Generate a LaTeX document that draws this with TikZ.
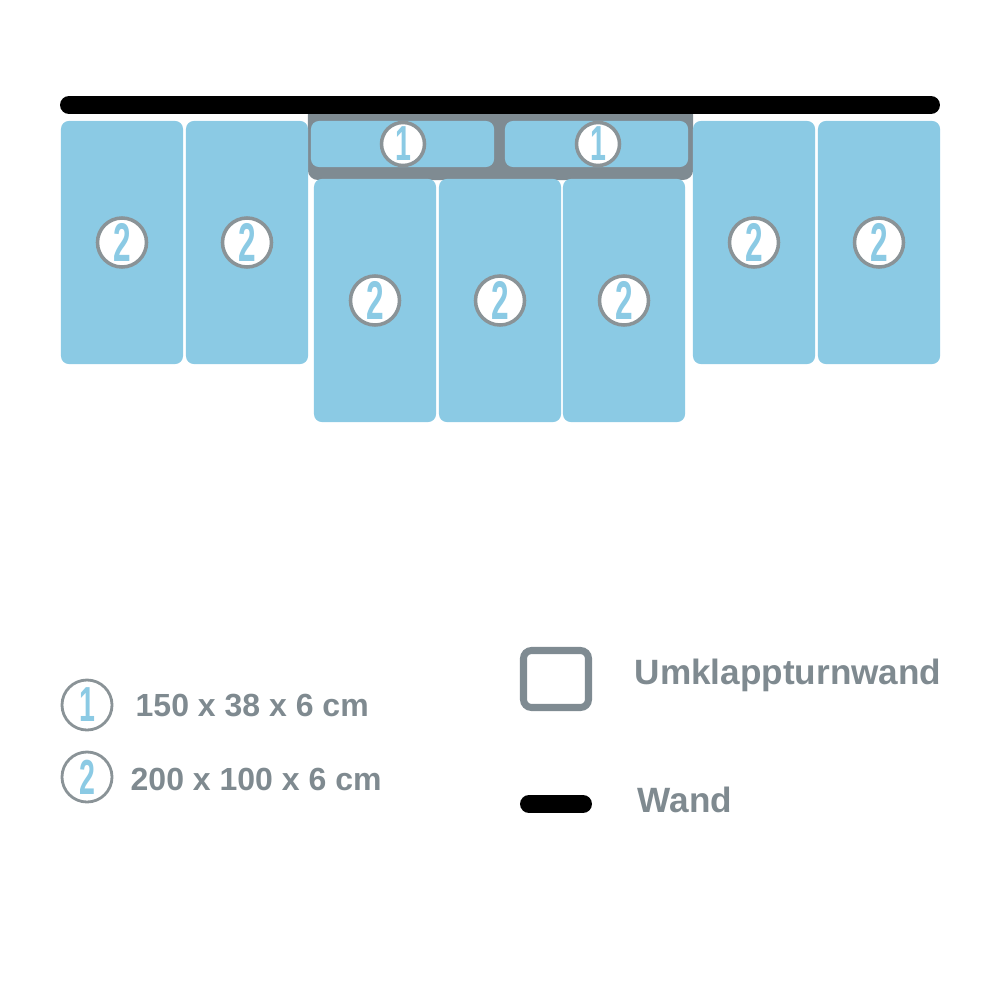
\documentclass[tikz,border=0pt]{standalone}
\usepackage{fontspec}
\setmainfont{Liberation Sans}
\usetikzlibrary{positioning}
\definecolor{matblue}{HTML}{8BCAE4}
\definecolor{framegray}{HTML}{7F8B92}
\definecolor{ringgray}{HTML}{8A9397}
\definecolor{labelgray}{HTML}{7F8A90}

\newcommand{\slimdigit}[1]{\scalebox{0.58}[1]{\bfseries #1}}

\begin{document}
\begin{tikzpicture}[x=0.01cm, y=-0.01cm,
    mat/.style={rectangle, rounded corners=0.08cm, fill=matblue, inner sep=0pt,
      minimum width=1.22cm, minimum height=2.43cm},
    smallmat/.style={mat, minimum width=1.83cm, minimum height=0.46cm},
    badge/.style={circle, draw=ringgray, line width=1pt, fill=white, inner sep=0pt,
      minimum size=0.49cm, text=matblue, font=\fontsize{15.5}{15.5}\selectfont},
    keybadge/.style={badge, line width=0.8pt, minimum size=0.5cm, font=\fontsize{14}{14}\selectfont},
    keytext/.style={inner sep=0pt, text=labelgray, font=\bfseries\fontsize{9.1}{9.1}\selectfont},
    bigkeytext/.style={keytext, font=\bfseries\fontsize{10}{10}\selectfont}]
  \useasboundingbox (0,0) rectangle (1000,1000);

  % Umklappturnwand frame (top corners hidden under the wall)
  \node[rectangle, rounded corners=0.1cm, fill=framegray, inner sep=0pt,
    minimum width=3.85cm, minimum height=0.75cm] (frame) at (500.5,142.5) {};

  % wall
  \draw[line width=5.1pt, line cap=round] (69,105) -- (931,105);

  % mats 150 x 38
  \node[smallmat] (small1) at (402.5,144) {};
  \node[smallmat] (small2) at (596.5,144) {};
  \node[badge, minimum size=0.43cm, font=\fontsize{14}{14}\selectfont] (b1a) at (403,144) {\slimdigit{1}};
  \node[badge, minimum size=0.43cm, font=\fontsize{14}{14}\selectfont] (b1b) at (598,144) {\slimdigit{1}};

  % mats 200 x 100, outer row
  \foreach \i/\x in {1/122, 2/247, 3/754, 4/879} {
    \node[mat] (mat\i) at (\x,242.5) {};
    \node[badge] (b2\i) at (mat\i) {\slimdigit{2}};
  }

  % mats 200 x 100, middle row
  \foreach \i/\x in {5/375, 6/500, 7/624} {
    \node[mat] (mat\i) at (\x,300.5) {};
    \node[badge] (b2\i) at (mat\i) {\slimdigit{2}};
  }

  % legend
  \node[keybadge] (key1) at (87,705) {\slimdigit{1}};
  \node[keybadge] (key2) at (87,777) {\slimdigit{2}};
  \node[keytext, anchor=base west] (size1) at (135,716) {150 x 38 x 6 cm};
  \node[keytext, anchor=base west] (size2) at (130,790) {200 x 100 x 6 cm};

  \draw[framegray, line width=2pt, rounded corners=0.08cm] (523.5,650.5) rectangle (588.5,707.5);
  \node[bigkeytext, anchor=base west] (turnwand) at (634,684) {Umklappturnwand};
  \draw[line width=5.1pt, line cap=round] (529,804) -- (583,804);
  \node[bigkeytext, anchor=base west] (wand) at (637,812) {Wand};
\end{tikzpicture}
\end{document}
